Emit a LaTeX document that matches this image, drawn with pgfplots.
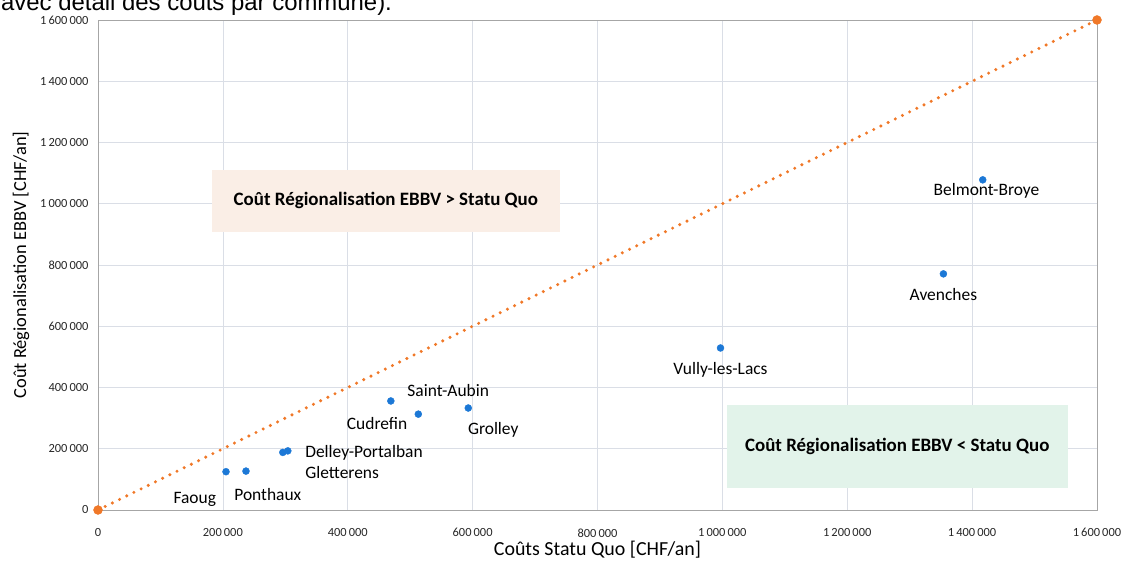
\documentclass[border=0pt]{standalone}
\usepackage{pgfplots}
\pgfplotsset{compat=1.18}
\usepackage{fontspec}
\setmainfont{Carlito}
\newfontfamily\arialfont{Liberation Sans}
\definecolor{ptblue}{RGB}{28,120,214}
\definecolor{lnorange}{RGB}{240,120,40}
\definecolor{boxpink}{RGB}{250,238,230}
\definecolor{boxgreen}{RGB}{226,243,234}
\definecolor{gridc}{RGB}{218,222,230}
\begin{document}
\begin{tikzpicture}[x=1bp,y=1bp]
\useasboundingbox (0,0) rectangle (1123,561);
\clip (0,0) rectangle (1123,561);
\node[anchor=base west,inner sep=0pt,font=\arialfont\fontsize{24}{28}\selectfont] at (1,550) {avec détail des coûts par commune).};
\begin{axis}[
  at={(98bp,51bp)}, anchor=origin,
  scale only axis, width=999bp, height=490bp,
  xmin=0, xmax=1600000, ymin=0, ymax=1600000,
  xtick={0,200000,...,1600000}, ytick={0,200000,...,1600000},
  scaled ticks=false,
  /pgf/number format/.cd, fixed, precision=0, 1000 sep={\,}, assume math mode=true,
  /pgfplots/.cd,
  tick label style={font=\fontsize{12.5}{15}\selectfont, text=black!85},
  xticklabel style={yshift=-15bp},
  yticklabel style={xshift=-6bp},
  major tick length=0pt,
  grid=major, major grid style={gridc, line width=0.7bp},
  axis line style={gray!70, line width=0.8bp},
  xlabel={Coûts Statu Quo [CHF/an]},
  ylabel={Coût Régionalisation EBBV [CHF/an]},
  xlabel style={font=\fontsize{20}{24}\selectfont, yshift=2.5bp},
  ylabel style={font=\fontsize{18.5}{22}\selectfont, yshift=4bp},
  clip=false,
]
\fill[boxpink] (axis cs:183000,908000) rectangle (axis cs:740000,1110000);
\node[font=\bfseries\fontsize{19}{22}\selectfont] at (axis cs:461000,1010000) {Coût Régionalisation EBBV > Statu Quo};
\fill[boxgreen] (axis cs:1008000,72000) rectangle (axis cs:1553000,343000);
\node[font=\bfseries\fontsize{19}{22}\selectfont] at (axis cs:1280000,207000) {Coût Régionalisation EBBV < Statu Quo};
\addplot[lnorange, line width=3.4bp, line cap=round, dash pattern=on 0pt off 8bp] coordinates {(0,0) (1600000,1600000)};
\addplot[only marks, mark=*, mark size=4.5bp, mark options={fill=lnorange, draw=lnorange}] coordinates {(0,0) (1600000,1600000)};
\addplot[only marks, mark=*, mark size=3.5bp, mark options={fill=ptblue, draw=ptblue}] coordinates {
(205000,125000) (237000,127000) (296000,188000) (304000,193000)
(469000,356000) (513000,313000) (593000,333000)
(997000,529000) (1354000,771000) (1417000,1078000)};
\begin{scope}[every node/.style={font=\fontsize{17.5}{20}\selectfont}]
\node at (axis cs:155000,33000) {Faoug};
\node at (axis cs:272000,52000) {Ponthaux};
\node at (axis cs:391000,121000) {Gletterens};
\node at (axis cs:426000,186000) {Delley-Portalban};
\node at (axis cs:561000,389000) {Saint-Aubin};
\node at (axis cs:447000,281000) {Cudrefin};
\node at (axis cs:633000,261000) {Grolley};
\node at (axis cs:997000,457000) {Vully-les-Lacs};
\node at (axis cs:1354000,702000) {Avenches};
\node at (axis cs:1423000,1042000) {Belmont-Broye};
\end{scope}
\end{axis}
\end{tikzpicture}
\end{document}
